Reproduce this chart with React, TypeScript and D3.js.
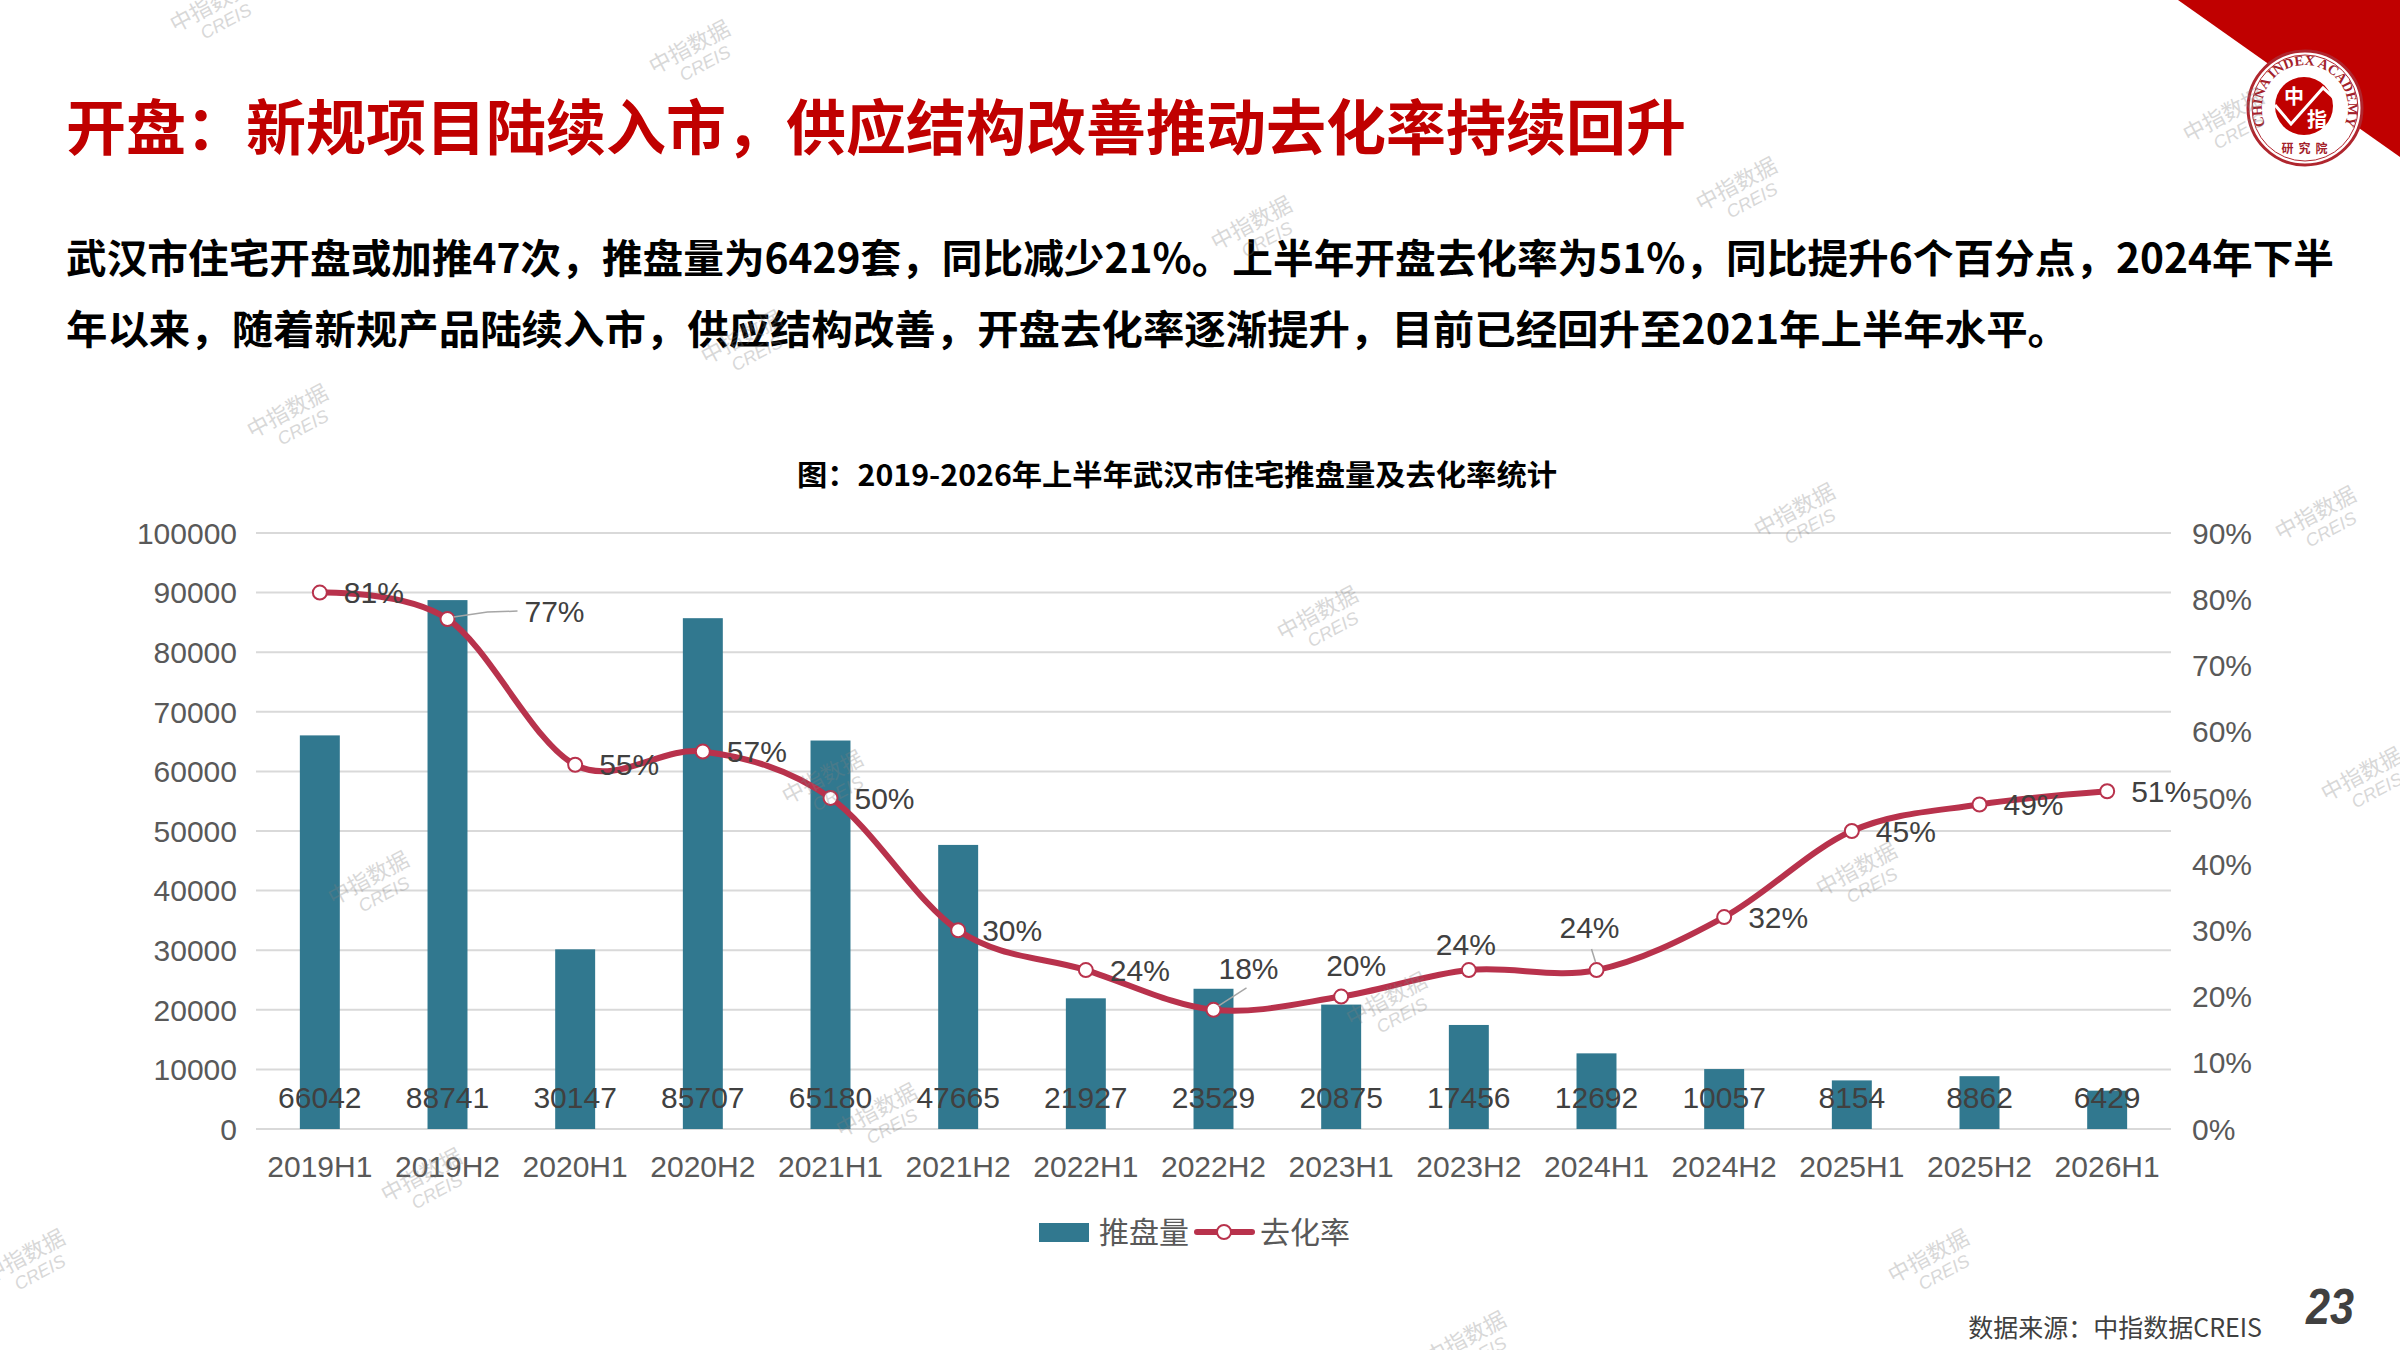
import * as d3 from "d3";

const CATEGORIES = [
  "2019H1", "2019H2", "2020H1", "2020H2", "2021H1", "2021H2", "2022H1", "2022H2",
  "2023H1", "2023H2", "2024H1", "2024H2", "2025H1", "2025H2", "2026H1",
];
const SUPPLY = [
  66042, 88741, 30147, 85707, 65180, 47665, 21927, 23529,
  20875, 17456, 12692, 10057, 8154, 8862, 6429,
];
const RATE = [
  0.81, 0.77, 0.55, 0.57, 0.5, 0.3, 0.24, 0.18,
  0.2, 0.24, 0.24, 0.32, 0.45, 0.49, 0.51,
];
const LEFT_TICKS = [0, 10000, 20000, 30000, 40000, 50000, 60000, 70000, 80000, 90000, 100000];
const RIGHT_TICKS = [0, 0.1, 0.2, 0.3, 0.4, 0.5, 0.6, 0.7, 0.8, 0.9];
// excel data label placement for the rate series
const LABEL_PLACE = [
  "right", "leaderRight", "right", "right", "right", "right", "right", "leaderUpRight",
  "upRight", "up", "leaderUp", "right", "right", "right", "right",
];

const TITLE = "开盘：新规项目陆续入市，供应结构改善推动去化率持续回升";
const PARA_1 =
  "武汉市住宅开盘或加推47次，推盘量为6429套，同比减少21%。上半年开盘去化率为51%，同比提升6个百分点，2024年下半";
const PARA_2 =
  "年以来，随着新规产品陆续入市，供应结构改善，开盘去化率逐渐提升，目前已经回升至2021年上半年水平。";
const CHART_TITLE = "图：2019-2026年上半年武汉市住宅推盘量及去化率统计";

const WATERMARKS = [
  [214, 12], [693, 54], [1255, 230], [1740, 191], [291, 418], [745, 344],
  [1798, 517], [1321, 620], [2319, 520], [826, 784], [2365, 781], [372, 885],
  [1860, 876], [1390, 1006], [880, 1117], [425, 1182], [28, 1263], [1932, 1263],
  [2227, 122], [1469, 1345],
];

const CJK = "'Noto Sans CJK SC', 'Noto Sans', sans-serif";
const LATIN = "'Liberation Sans', Arial, sans-serif";
const BAR = "#31788F";
const LINE = "#B8324C";
const RED = "#C00000";

const W = 2400;
const H = 1350;
const plot = { left: 256, right: 2171, top: 533, bottom: 1129 };

function Logo() {
  const cx = 2305;
  const cy = 108;
  const r = 43;
  const a = (38 * Math.PI) / 180;
  const arc = `M${cx - r * Math.cos(a)},${cy + r * Math.sin(a)} A${r},${r} 0 1 1 ${cx + r * Math.cos(a)},${cy + r * Math.sin(a)}`;
  return (
    <g>
      <polygon points="2178,0 2400,0 2400,157" fill={RED} />
      <circle cx={cx} cy={cy} r={57} fill="#fff" stroke="#B0262E" strokeWidth={3} />
      <circle cx={cx} cy={cy} r={53} fill="none" stroke="#B0262E" strokeWidth={1} />
      <defs>
        <path id="logoArc" d={arc} />
      </defs>
      <text fontFamily="'Liberation Serif', serif" fontWeight={700} fontSize={14} fill="#A3212A">
        <textPath href="#logoArc" startOffset="50%" textAnchor="middle">
          CHINA INDEX ACADEMY
        </textPath>
      </text>
      <circle cx={cx - 1} cy={cy - 2} r={29} fill={RED} />
      <polyline
        points={`${cx - 30},${cy - 3} ${cx - 14},${cy + 16} ${cx + 18},${cy - 20} ${cx + 29},${cy - 10}`}
        fill="none"
        stroke="#fff"
        strokeWidth={3}
      />
      <text x={cx - 11} y={cy - 4} fontFamily={CJK} fontWeight={700} fontSize={20} fill="#fff" textAnchor="middle">
        中
      </text>
      <text x={cx + 12} y={cy + 19} fontFamily={CJK} fontWeight={700} fontSize={20} fill="#fff" textAnchor="middle">
        指
      </text>
      <text x={cx + 2} y={cy + 45} fontFamily={CJK} fontWeight={700} fontSize={12} fill="#A3212A" textAnchor="middle" letterSpacing={5}>
        研究院
      </text>
    </g>
  );
}

export default function App() {
  const x = d3
    .scaleBand<string>()
    .domain(CATEGORIES)
    .range([plot.left, plot.right])
    .paddingInner(0.687)
    .paddingOuter(0.3435);
  const yL = d3.scaleLinear().domain([0, 100000]).range([plot.bottom, plot.top]);
  const yR = d3.scaleLinear().domain([0, 0.9]).range([plot.bottom, plot.top]);
  const cxOf = (c: string) => (x(c) ?? 0) + x.bandwidth() / 2;

  const pts: [number, number][] = CATEGORIES.map((c, i) => [cxOf(c), yR(RATE[i])]);
  const linePath = d3.line().curve(d3.curveCatmullRom.alpha(0))(pts) ?? "";
  const pct = d3.format(".0%");

  const rateLabel = (i: number) => {
    const [px, py] = pts[i];
    const t = pct(RATE[i]);
    const common = { fontFamily: LATIN, fontSize: 30, fill: "#404040" };
    switch (LABEL_PLACE[i]) {
      case "leaderRight":
        return (
          <g key={i}>
            <polyline points={`${px + 6},${py - 2} ${px + 40},${py - 7} ${px + 70},${py - 8}`} fill="none" stroke="#A6A6A6" strokeWidth={1.5} />
            <text x={px + 77} y={py - 8 + 10.7} {...common}>{t}</text>
          </g>
        );
      case "leaderUpRight":
        return (
          <g key={i}>
            <line x1={px + 5} y1={py - 4} x2={px + 33} y2={py - 22} stroke="#A6A6A6" strokeWidth={1.5} />
            <text x={px + 35} y={py - 42 + 10.7} textAnchor="middle" {...common}>{t}</text>
          </g>
        );
      case "upRight":
        return <text key={i} x={px + 15} y={py - 31 + 10.7} textAnchor="middle" {...common}>{t}</text>;
      case "up":
        return <text key={i} x={px - 3} y={py - 26 + 10.7} textAnchor="middle" {...common}>{t}</text>;
      case "leaderUp":
        return (
          <g key={i}>
            <line x1={px - 5} y1={py - 21} x2={px - 1} y2={py - 8} stroke="#A6A6A6" strokeWidth={1.5} />
            <text x={px - 7} y={py - 43 + 10.7} textAnchor="middle" {...common}>{t}</text>
          </g>
        );
      default:
        return <text key={i} x={px + 24} y={py + 10.7} {...common}>{t}</text>;
    }
  };

  return (
    <svg width={W} height={H} viewBox={`0 0 ${W} ${H}`} style={{ position: "absolute", left: 0, top: 0, background: "#fff" }}>
      <rect width={W} height={H} fill="#fff" />
      <Logo />

      <text x={66} y={150} fontFamily={CJK} fontWeight={700} fontSize={60} fill={RED} textLength={1620} lengthAdjust="spacingAndGlyphs">
        {TITLE}
      </text>
      <text x={66} y={273} fontFamily={CJK} fontWeight={700} fontSize={40} fill="#000" textLength={2268} lengthAdjust="spacingAndGlyphs">
        {PARA_1}
      </text>
      <text x={66} y={344} fontFamily={CJK} fontWeight={700} fontSize={40} fill="#000" textLength={2003} lengthAdjust="spacingAndGlyphs">
        {PARA_2}
      </text>
      <text x={797} y={486} fontFamily={CJK} fontWeight={700} fontSize={29} fill="#000" textLength={760} lengthAdjust="spacingAndGlyphs">
        {CHART_TITLE}
      </text>

      {/* gridlines */}
      {LEFT_TICKS.map((t) => (
        <line key={t} x1={plot.left} x2={plot.right} y1={yL(t)} y2={yL(t)} stroke="#D9D9D9" strokeWidth={2} />
      ))}

      {/* left axis */}
      {LEFT_TICKS.map((t) => (
        <text key={t} x={237} y={yL(t) + 10.7} textAnchor="end" fontFamily={LATIN} fontSize={30} fill="#595959">
          {t}
        </text>
      ))}
      {/* right axis */}
      {RIGHT_TICKS.map((t) => (
        <text key={t} x={2192} y={yR(t) + 10.7} fontFamily={LATIN} fontSize={30} fill="#595959">
          {pct(t)}
        </text>
      ))}

      {/* bars */}
      {CATEGORIES.map((c, i) => (
        <rect key={c} x={x(c)} y={yL(SUPPLY[i])} width={x.bandwidth()} height={plot.bottom - yL(SUPPLY[i])} fill={BAR} />
      ))}
      {CATEGORIES.map((c, i) => (
        <text key={c} x={cxOf(c)} y={1108} textAnchor="middle" fontFamily={LATIN} fontSize={30} fill="#404040">
          {SUPPLY[i]}
        </text>
      ))}

      {/* category axis */}
      {CATEGORIES.map((c) => (
        <text key={c} x={cxOf(c)} y={1177} textAnchor="middle" fontFamily={LATIN} fontSize={30} fill="#595959">
          {c}
        </text>
      ))}

      {/* rate line */}
      <path d={linePath} fill="none" stroke={LINE} strokeWidth={6} strokeLinejoin="round" strokeLinecap="round" />
      {pts.map(([px, py], i) => (
        <circle key={i} cx={px} cy={py} r={7} fill="#fff" stroke={LINE} strokeWidth={2} />
      ))}
      {CATEGORIES.map((_, i) => rateLabel(i))}

      {/* legend */}
      <rect x={1039} y={1223} width={50} height={19} fill={BAR} />
      <text x={1099} y={1243} fontFamily={CJK} fontSize={30} fill="#595959">推盘量</text>
      <line x1={1197} x2={1252} y1={1232} y2={1232} stroke={LINE} strokeWidth={6} strokeLinecap="round" />
      <circle cx={1224} cy={1232} r={7} fill="#fff" stroke={LINE} strokeWidth={2} />
      <text x={1260} y={1243} fontFamily={CJK} fontSize={30} fill="#595959">去化率</text>

      {/* footer */}
      <text x={2262} y={1337} textAnchor="end" fontFamily={CJK} fontSize={25} fill="#404040">
        数据来源：中指数据CREIS
      </text>
      <text x={2306} y={1324} fontFamily={LATIN} fontWeight={700} fontStyle="italic" fontSize={50} fill="#404040" textLength={48} lengthAdjust="spacingAndGlyphs">
        23
      </text>

      {/* watermarks */}
      {WATERMARKS.map(([wx, wy], i) => (
        <g key={i} transform={`translate(${wx},${wy}) rotate(-28)`} fill="#808080" opacity={0.3}>
          <text textAnchor="middle" fontFamily={CJK} fontSize={22}>中指数据</text>
          <text x={6} y={20} textAnchor="middle" fontFamily={LATIN} fontStyle="italic" fontSize={18}>CREIS</text>
        </g>
      ))}
    </svg>
  );
}
